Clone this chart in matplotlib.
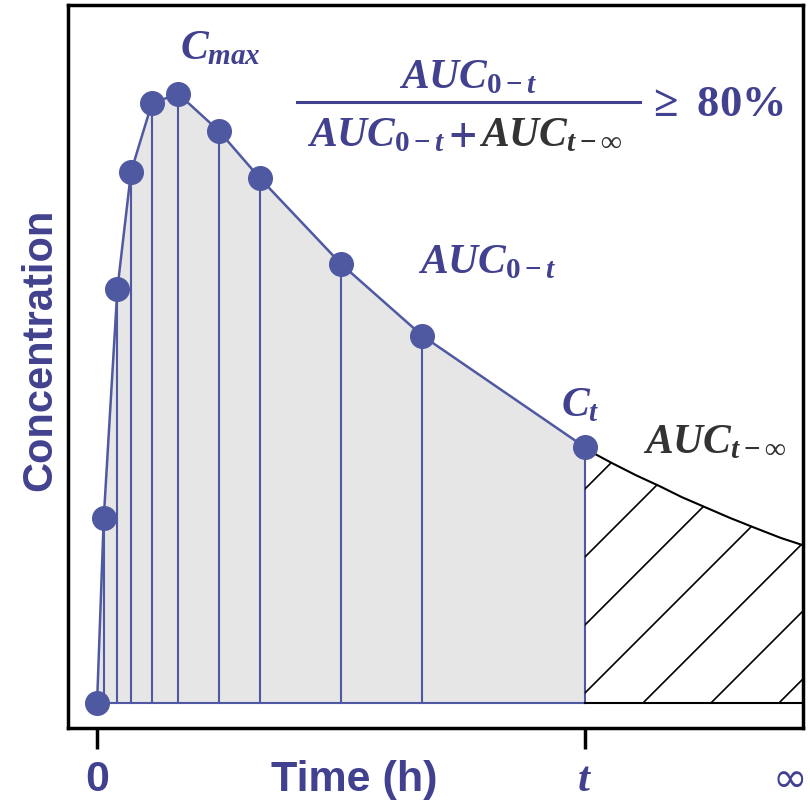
import numpy as np
import matplotlib
matplotlib.use("Agg")
import matplotlib.pyplot as plt
from matplotlib.patches import Polygon

plt.rcParams['mathtext.fontset'] = 'custom'
plt.rcParams['mathtext.rm'] = 'Liberation Serif:bold'
plt.rcParams['mathtext.bf'] = 'Liberation Serif:bold'
plt.rcParams['mathtext.it'] = 'Liberation Serif:italic:bold'
plt.rcParams['font.family'] = ['Liberation Sans', 'DejaVu Sans']

# sampling times (h) and concentrations
times = [0, 0.33, 1.0, 1.67, 2.7, 4.0, 6.0, 8.0, 12.0, 16.0, 24.0]
conc = [0, 30.4, 68.0, 87.2, 98.5, 100.0, 93.9, 86.2, 72.1, 60.3, 42.0]
# extrapolated tail after last sample
tail_t = [24.0, 24.49, 25.33, 26.51, 27.68, 28.77, 29.95, 31.13, 32.41, 33.64, 34.83]
tail_c = [42.0, 40.9, 39.4, 37.4, 35.6, 33.8, 32.1, 30.4, 28.7, 27.1, 25.8]
tick_pos = [0, 24]
tick_lab = ['0', r'$t$']

blue = '#4f59a2'
txt = '#41418f'
dark = '#333333'

fig = plt.figure(figsize=(8.1, 8.01), dpi=100)
ax = fig.add_axes([68/810, 73/801, 735/810, 723/801])
xmin, xmax = -1.43, 34.73
ymin, ymax = -4.1, 114.6
ax.set_xlim(xmin, xmax)
ax.set_ylim(ymin, ymax)

# shaded AUC 0-t
ax.fill_between(times, conc, 0, color='#e6e6e6', lw=0, zorder=1)
for x, y in zip(times[1:], conc[1:]):
    ax.plot([x, x], [0, y], color=blue, lw=1.5, zorder=2)
ax.plot([times[0], times[-1]], [0, 0], color=blue, lw=1.5, zorder=2)

# tail region with hatching
verts = list(zip(tail_t, tail_c)) + [(tail_t[-1], 0), (tail_t[0], 0)]
patch = Polygon(verts, closed=True, facecolor='white', edgecolor='none', zorder=1)
ax.add_patch(patch)
dx = (xmax - xmin) / 735
dy = (ymax - ymin) / 723
s = np.array([-400, 400])
for k in range(-10, 6):
    x0 = 24 + 58 * dx + k * 68 * dx
    ln, = ax.plot(x0 + s * dx, s * dy, color='black', lw=1.2, zorder=2)
    ln.set_clip_path(patch)
ax.plot(tail_t, tail_c, color='black', lw=1.5, zorder=3)
ax.plot([tail_t[0], tail_t[-1]], [0, 0], color='black', lw=1.5, zorder=3)

ax.plot(times, conc, color=blue, lw=1.8, marker='o', ms=17, zorder=4,
        clip_on=False)

# frame and ticks
for sp in ax.spines.values():
    sp.set_linewidth(2.5)
ax.set_yticks([])
ax.set_xticks(tick_pos)
ax.set_xticklabels(tick_lab)
ax.tick_params(axis='x', direction='out', length=15, width=2.5, pad=8,
               labelsize=31, labelcolor=txt)
for lab in ax.get_xticklabels():
    lab.set_fontweight('bold')
ax.text(0.98, -0.072, r'$\infty$', transform=ax.transAxes, fontsize=30,
        color=txt, ha='center', va='center',
        math_fontfamily='dejavusans')
ax.text(0.39, -0.072, 'Time (h)', transform=ax.transAxes, fontsize=31,
        color=txt, fontweight='bold', ha='center', va='center')
fig.text(40/810, 1 - 350/801, 'Concentration', rotation=90, fontsize=30,
         color=txt, fontweight='bold', ha='center', va='center')

# annotations
fs = 30
def px(x, y):
    return ((x - 68) / 735, (728 - y) / 723)

ax.text(*px(220, 48), r'$C_{max}$', transform=ax.transAxes,
        fontsize=fs, color=txt, ha='center', va='center')
ax.text(*px(487, 262), r'$AUC_{0-t}$', transform=ax.transAxes,
        fontsize=fs, color=txt, ha='center', va='center')
ax.text(*px(580, 405), r'$C_t$', transform=ax.transAxes,
        fontsize=fs, color=txt, ha='center', va='center')
ax.text(*px(715, 442), r'$AUC_{t-\infty}$', transform=ax.transAxes,
        fontsize=fs, color=dark, ha='center', va='center')

# fraction
ax.text(*px(468, 77), r'$AUC_{0-t}$', transform=ax.transAxes,
        fontsize=fs, color=txt, ha='center', va='center')
ax.plot([0.312, 0.778], [0.866, 0.866], transform=ax.transAxes,
        color=txt, lw=2.2, clip_on=False)
ax.text(*px(446, 135), r'$AUC_{0-t}$', transform=ax.transAxes,
        fontsize=fs, color=txt, ha='right', va='center')
ax.text(*px(462, 137), r'$+$', transform=ax.transAxes,
        fontsize=36, color=txt, ha='center', va='center')
ax.text(*px(479, 135), r'$AUC_{t-\infty}$', transform=ax.transAxes,
        fontsize=fs, color=dark, ha='left', va='center')
ax.text(*px(715, 104), r'$\geq\ 80\%$', transform=ax.transAxes,
        fontsize=fs + 2, color=txt, ha='center', va='center')

fig.savefig('out.png', dpi=100)
